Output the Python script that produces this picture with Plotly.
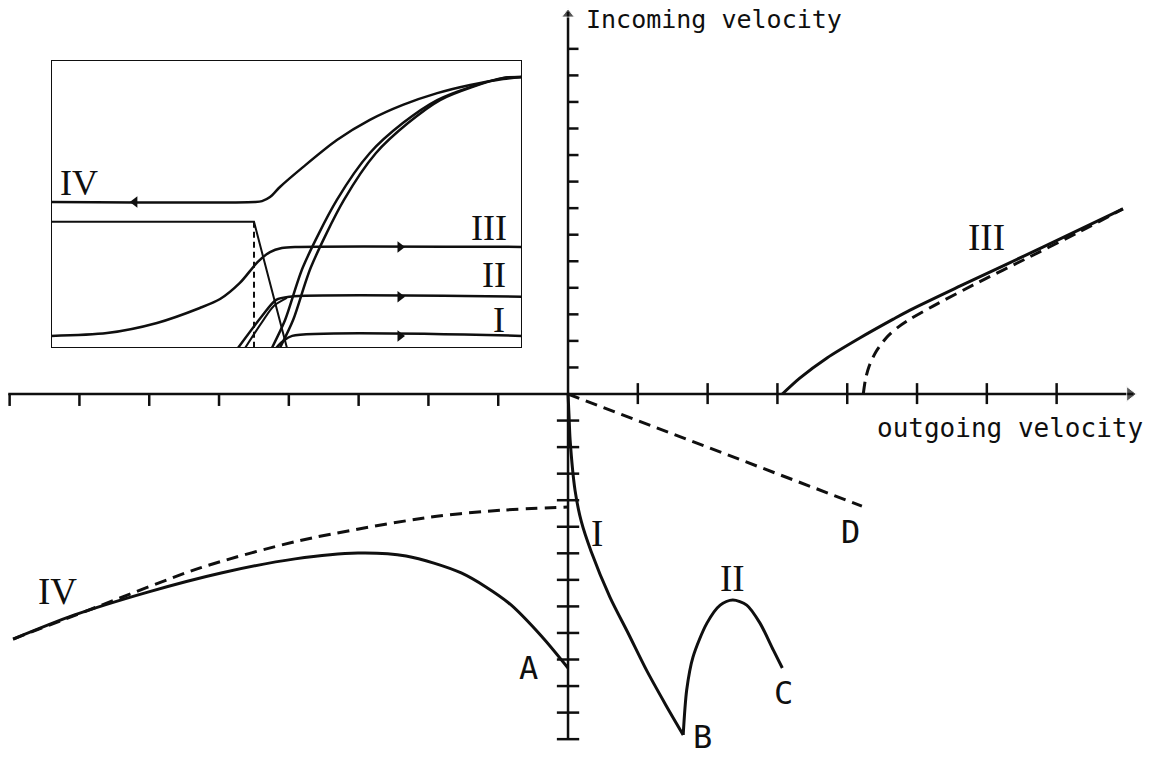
import plotly.graph_objects as go

# ---- main diagram, units = one tick mark on each axis ----
x_ticks_left = [-8, -7, -6, -5, -4, -3, -2, -1]
x_ticks_right = [1, 2, 3, 4, 5, 6, 7]
y_ticks_up = [1, 2, 3, 4, 5, 6, 7, 8, 9, 10, 11, 12, 13]
y_ticks_down = [-1, -2, -3, -4, -5, -6, -7, -8, -9, -10, -11, -12, -13]

# branch I: origin down to B
I_x = [0, 0.014, 0.03, 0.10, 0.19, 0.33, 0.60, 0.86, 1.13, 1.40, 1.65]
I_y = [0, -0.8, -1.73, -3.62, -4.80, -5.92, -7.65, -9.00, -10.43, -11.71, -12.84]
# branch II: B up and over to C
II_x = [1.65, 1.70, 1.79, 1.99, 2.18, 2.36, 2.56, 2.75, 2.94, 3.07]
II_y = [-12.84, -11.15, -9.91, -8.63, -7.95, -7.76, -7.95, -8.63, -9.64, -10.32]
# branch III (upper right), solid and dashed
III_x = [3.07, 3.32, 3.71, 4.18, 4.66, 4.90, 5.62, 6.81, 7.95]
III_y = [0, 0.60, 1.36, 2.11, 2.82, 3.16, 4.07, 5.54, 6.97]
III_dash_x = [4.23, 4.26, 4.31, 4.41, 4.57, 4.73, 4.90, 5.23, 5.86, 6.58, 7.29, 7.95]
III_dash_y = [0, 0.53, 1.02, 1.58, 2.15, 2.52, 2.82, 3.31, 4.18, 5.12, 6.06, 6.97]
# branch IV (lower left) ending at A, and its dashed asymptote
IV_x = [-7.95, -7.08, -6.02, -4.97, -3.91, -3.01, -2.32, -1.53, -0.85, -0.37, 0]
IV_y = [-9.23, -8.33, -7.46, -6.74, -6.21, -5.99, -6.10, -6.74, -7.87, -9.15, -10.32]
IV_dash_x = [-7.95, -6.70, -5.27, -3.84, -1.98, -0.97, 0]
IV_dash_y = [-9.23, -7.97, -6.55, -5.52, -4.64, -4.38, -4.26]
# straight dashed line to D
D_x = [0, 4.21]
D_y = [0, -4.22]

# ---- inset, units 0..10 on both sides of the box ----
in_IV_x = [0, 4.33, 4.48, 4.65, 4.86, 5.35, 6.07, 6.77, 7.47, 8.20, 8.90, 9.60, 10.0]
in_IV_y = [5.07, 5.07, 5.10, 5.24, 5.59, 6.28, 7.22, 7.92, 8.44, 8.85, 9.13, 9.34, 9.41]
in_step_x = [0, 4.31, 5.01]
in_step_y = [4.38, 4.38, 0]
in_III_x = [0, 1.19, 2.25, 3.16, 3.59, 4.01, 4.39, 4.65, 4.90, 5.18, 10]
in_III_y = [0.42, 0.52, 0.87, 1.39, 1.70, 2.26, 2.99, 3.33, 3.47, 3.51, 3.51]
in_II_x = [3.97, 4.48, 4.78, 5.07, 10]
in_II_y = [0, 1.11, 1.67, 1.78, 1.78]
in_II2_x = [4.12, 4.48, 4.73, 5.01]
in_II2_y = [0, 0.90, 1.46, 1.74]
in_I_x = [4.78, 4.93, 5.12, 10]
in_I_y = [0, 0.24, 0.42, 0.42]
in_big1_x = [4.69, 4.97, 5.35, 6.07, 6.77, 7.47, 8.20, 8.90, 9.60, 10.0]
in_big1_y = [0, 0.97, 2.81, 5.14, 6.77, 7.81, 8.61, 9.06, 9.38, 9.41]
in_big2_x = [4.86, 5.14, 5.52, 6.22, 6.90, 7.58, 8.26, 8.94, 9.62, 10.0]
in_big2_y = [0, 0.97, 2.81, 5.14, 6.77, 7.81, 8.61, 9.06, 9.38, 9.41]

INK = 'rgb(15, 15, 15)'
SANS = 'DejaVu Sans Mono'
SERIF = 'Liberation Serif'
DASH = '12px,7px'


def line(x, y, dash='solid', width=3, axes=('x', 'y'), spline=True):
    return go.Scatter(x=x, y=y, mode='lines', xaxis=axes[0], yaxis=axes[1],
                      line=dict(color=INK, width=width, dash=dash,
                                shape='spline' if spline else 'linear',
                                smoothing=0.8),
                      hoverinfo='none', showlegend=False)


def ticks(positions, lo, hi, vertical):
    xs, ys = [], []
    for p in positions:
        if vertical:
            xs += [lo, hi, None]
            ys += [p, p, None]
        else:
            xs += [p, p, None]
            ys += [lo, hi, None]
    return line(xs, ys, width=2.5, spline=False)


fig = go.Figure()

# axes with arrows
fig.add_trace(line([-8.02, 8.1], [0, 0], width=2.5, spline=False))
fig.add_trace(line([0, 0], [-13, 14.4], width=2.5, spline=False))
fig.add_trace(ticks(x_ticks_left, -0.45, 0, vertical=False))
fig.add_trace(ticks(x_ticks_right, -0.38, 0.41, vertical=False))
fig.add_trace(ticks(y_ticks_up, 0, 0.15, vertical=True))
fig.add_trace(ticks(y_ticks_down, -0.16, 0.16, vertical=True))
fig.add_trace(go.Scatter(x=[8.05, 0], y=[0, 14.3], mode='markers',
                         marker=dict(symbol=['triangle-right', 'triangle-up'],
                                     size=[13, 11], color=INK),
                         hoverinfo='none', showlegend=False))

# curves
fig.add_trace(line(I_x, I_y))
fig.add_trace(line(II_x, II_y))
fig.add_trace(line(III_x, III_y))
fig.add_trace(line(III_dash_x, III_dash_y, dash=DASH))
fig.add_trace(line(IV_x, IV_y))
fig.add_trace(line(IV_dash_x, IV_dash_y, dash=DASH))
fig.add_trace(line(D_x, D_y, dash=DASH, spline=False))

# inset
ins = ('x2', 'y2')
fig.add_trace(line(in_IV_x, in_IV_y, width=2.5, axes=ins))
fig.add_trace(line(in_step_x, in_step_y, width=2, axes=ins, spline=False))
fig.add_trace(line([4.31, 4.31], [4.38, 0], dash='6px,4px', width=2, axes=ins, spline=False))
fig.add_trace(line(in_III_x, in_III_y, width=2.5, axes=ins))
fig.add_trace(line(in_II_x, in_II_y, width=2.5, axes=ins))
fig.add_trace(line(in_II2_x, in_II2_y, width=2, axes=ins))
fig.add_trace(line(in_I_x, in_I_y, width=2.5, axes=ins))
fig.add_trace(line(in_big1_x, in_big1_y, width=2.5, axes=ins))
fig.add_trace(line(in_big2_x, in_big2_y, width=2.5, axes=ins))
fig.add_trace(go.Scatter(x=[1.78, 7.41, 7.41, 7.41], y=[5.07, 3.51, 1.78, 0.42],
                         mode='markers', xaxis='x2', yaxis='y2',
                         marker=dict(symbol=['triangle-left'] + ['triangle-right'] * 3,
                                     size=10, color=INK),
                         hoverinfo='none', showlegend=False))

annotations = []
labels = [
    ('Incoming velocity', 0.23, 14.09, 'left', SANS, 25),
    ('outgoing velocity', 4.40, -1.28, 'left', SANS, 26),
    ('A', -0.56, -10.32, 'center', SANS, 32),
    ('B', 1.92, -12.92, 'center', SANS, 32),
    ('C', 3.09, -11.26, 'center', SANS, 32),
    ('D', 4.05, -5.20, 'center', SANS, 32),
    ('I', 0.42, -5.24, 'center', SERIF, 37),
    ('II', 2.35, -6.93, 'center', SERIF, 37),
    ('III', 6.00, 5.91, 'center', SERIF, 37),
    ('IV', -7.32, -7.42, 'center', SERIF, 37),
]
for text, x, y, anchor, family, size in labels:
    annotations.append(dict(text=text, x=x, y=y, xref='x', yref='y',
                            xanchor=anchor, yanchor='middle', showarrow=False,
                            font=dict(family=family, size=size, color=INK)))
inset_labels = [('IV', 0.59, 5.73), ('III', 9.30, 4.17), ('II', 9.41, 2.53), ('I', 9.51, 0.97)]
for text, x, y in inset_labels:
    annotations.append(dict(text=text, x=x, y=y, xref='x2', yref='y2',
                            xanchor='center', yanchor='middle', showarrow=False,
                            font=dict(family=SERIF, size=36, color=INK)))

hidden = dict(showline=False, zeroline=False, showgrid=False,
              showticklabels=False, ticks='', fixedrange=True)
fig.update_layout(
    width=1160, height=757,
    margin=dict(l=0, r=0, t=0, b=0),
    paper_bgcolor='white', plot_bgcolor='white',
    xaxis=dict(range=[-8.138, 8.481], domain=[0, 1], **hidden),
    yaxis=dict(range=[-13.672, 14.840], domain=[0, 1], **hidden),
    xaxis2=dict(range=[0, 10], domain=[0.04397, 0.45], anchor='y2', **hidden),
    yaxis2=dict(range=[0, 10], domain=[0.5403, 0.9207], anchor='x2', **hidden),
    shapes=[dict(type='rect', xref='x2', yref='y2', x0=0, x1=10, y0=0, y1=10,
                 line=dict(color=INK, width=2))],
    annotations=annotations,
    showlegend=False,
)

# page body has an 8px margin by default, drop it so the figure sits at 0,0
fig.write_html("out.html", config={'displayModeBar': False},
               post_script="document.body.style.margin = '0';")
